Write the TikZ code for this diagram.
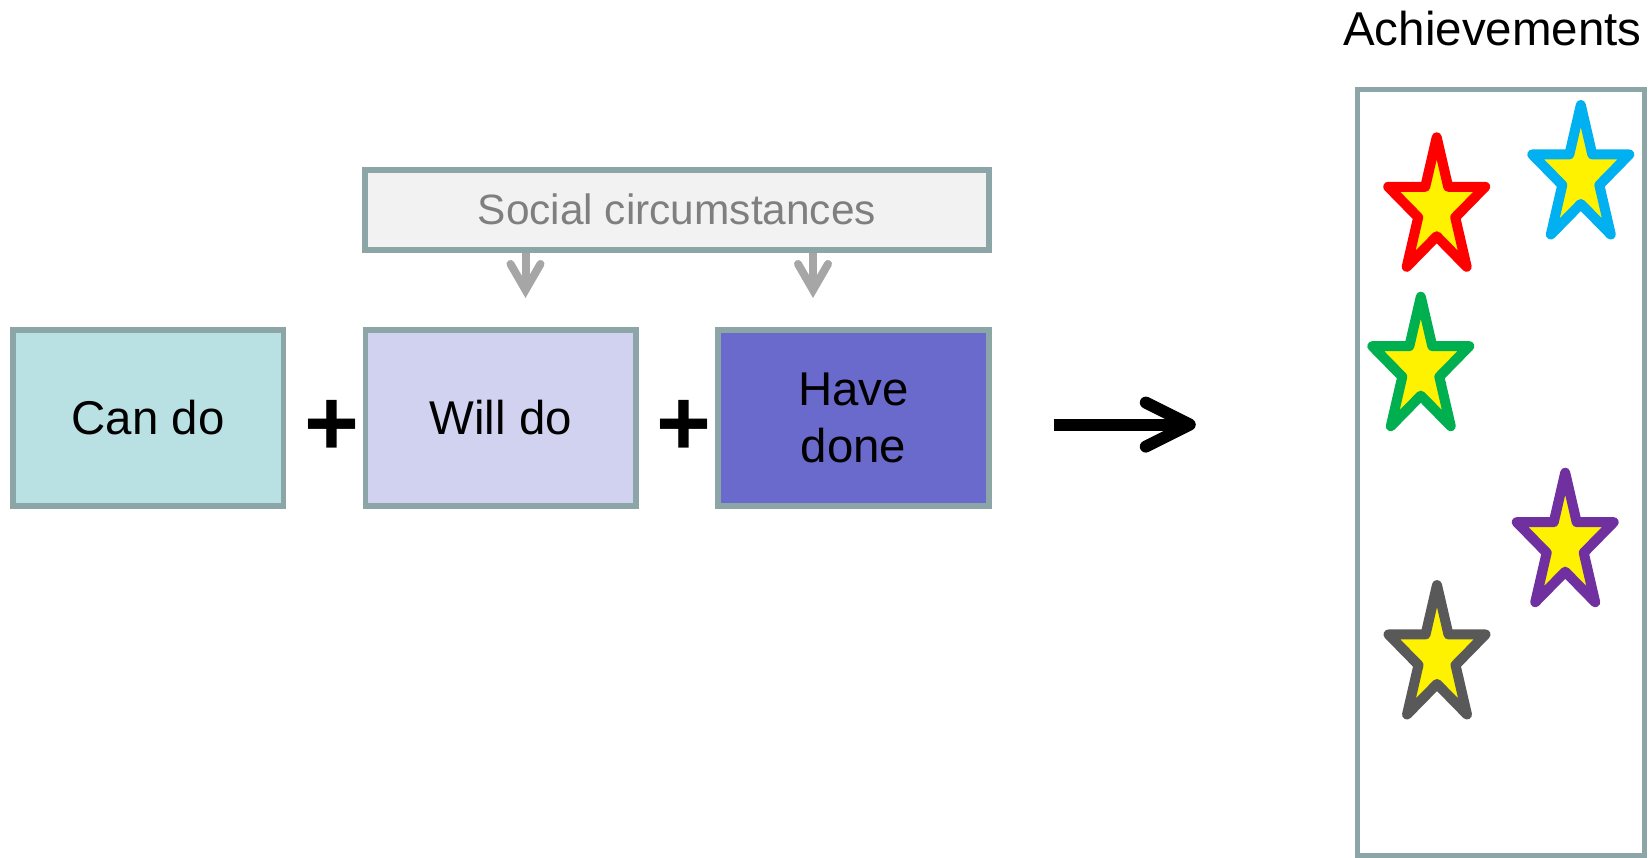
\documentclass[tikz,border=0pt]{standalone}
\usepackage{fontspec}
\setmainfont{Liberation Sans}
\usetikzlibrary{arrows.meta,positioning}
\definecolor{boxline}{RGB}{140,166,168}
\definecolor{canfill}{RGB}{185,224,227}
\definecolor{willfill}{RGB}{209,210,239}
\definecolor{donefill}{RGB}{106,106,204}
\definecolor{socfill}{RGB}{242,242,242}
\definecolor{soctext}{RGB}{127,127,127}
\definecolor{arrowgray}{RGB}{166,166,166}
\definecolor{starred}{RGB}{255,0,0}
\definecolor{starblue}{RGB}{0,176,240}
\definecolor{stargreen}{RGB}{0,176,80}
\definecolor{starpurple}{RGB}{112,48,160}
\definecolor{stargray}{RGB}{89,89,89}
\newcommand{\boxfont}{\fontsize{47.4}{57}\selectfont}

\begin{document}
\begin{tikzpicture}[x=1pt,y=-1pt,
  stepbox/.style={draw=boxline,line width=5.5pt,minimum width=270.6pt,minimum height=175.8pt,
    outer sep=0pt,inner sep=0pt,align=center,font=\boxfont},
  plussign/.style={font=\fontsize{94}{94}\selectfont\bfseries,inner sep=0pt},
  socarrow/.style={draw=arrowgray,line width=8pt,
    -{Straight Barb[line cap=round,line join=miter,length=26pt,width=30pt]}},
  bigarrow/.style={line width=12pt,-{Straight Barb[round,length=44pt,width=44pt]}},
  starline/.style={line width=10pt,line join=round,fill=yellow}]
\useasboundingbox (0,0) rectangle (1652,858);
% the three boxes in a row
\node[stepbox,fill=canfill] (can) at (148.1,418) {Can do};
\node[stepbox,fill=willfill,right=82.1pt of can] (will) {Will do};
\node[stepbox,fill=donefill,right=82.1pt of will] (done) {Have\\done};
\node[plussign] (plus1) at (332.2,428) {+};
\node[plussign] (plus2) at (684,428) {+};
% social circumstances on top
\node[draw=boxline,line width=5.5pt,fill=socfill,minimum width=623.8pt,minimum height=80pt,
  inner sep=0pt,text=soctext,font=\fontsize{42.4}{48}\selectfont] (social) at (676.9,209.8) {Social circumstances};
\coordinate (will in) at (525.5,298);
\coordinate (done in) at (813,298);
\draw[socarrow] (social.south -| will in) -- (will in);
\draw[socarrow] (social.south -| done in) -- (done in);
% result arrow
\coordinate (res start) at (1053.6,424.6);
\coordinate (res end) at (1195.8,424.6);
\draw[bigarrow] (res start) -- (res end);
% achievements
\node[draw=boxline,line width=5pt,minimum width=286.5pt,minimum height=765pt,inner sep=0pt] (ach) at (1500.8,472.5) {};
\node[anchor=base,font=\fontsize{47.5}{57}\selectfont,inner sep=0pt] (achtitle) at (1492.4,45.3) {Achievements};
\foreach \cx/\cy/\col in {1436.7/208.9/starred,1580.8/176.6/starblue,1420.8/368.3/stargreen,
    1565.2/544.3/starpurple,1437/656.6/stargray}
  \draw[starline,draw=\col] plot[samples at={0,...,9},variable=\k]
    ({\cx+51*(1-0.618*mod(\k,2))*cos(90+36*\k)},{\cy-71.6*(1-0.618*mod(\k,2))*sin(90+36*\k)}) -- cycle;
\end{tikzpicture}
\end{document}
